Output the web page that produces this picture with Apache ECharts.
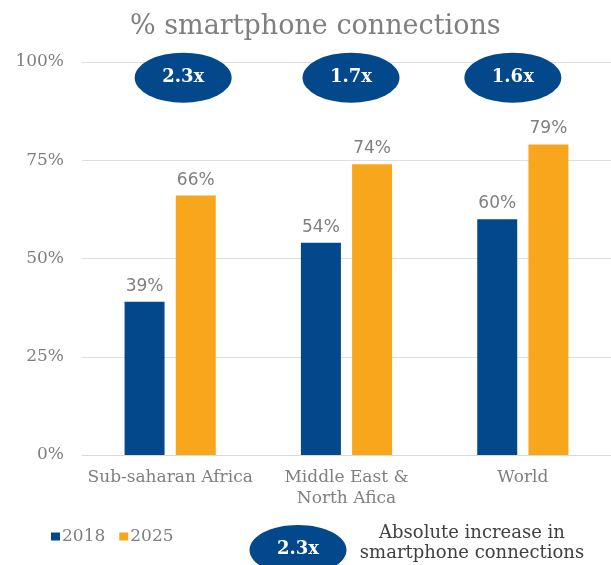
<!DOCTYPE html>
<html>
<head>
<meta charset="utf-8">
<style>
  html, body { margin: 0; padding: 0; background: #ffffff; }
  #chart { width: 611px; height: 565px; }
</style>
<script src="https://cdn.jsdelivr.net/npm/echarts@6/dist/echarts.min.js"></script>
</head>
<body>
<div id="chart"></div>
<script>
const categories = ['Sub-saharan Africa', 'Middle East &\nNorth Afica', 'World'];
const values2018 = [39, 54, 60];
const values2025 = [66, 74, 79];
const ratios = [2.3, 1.7, 1.6];
const ratioLevel = [96, 96, 96];
const yTicks = [0, 25, 50, 75, 100];
const legendRatio = 2.3;

const BLUE = '#02488a';
const ORANGE = '#f8a61c';
const GREY = '#7f7f7f';
const SERIF = '"DejaVu Serif", serif';
const SANS = '"DejaVu Sans", sans-serif';

const chart = echarts.init(document.getElementById('chart'), null, { renderer: 'canvas' });

const ellipseOffsets = [[13, 0], [4.5, 0], [-10, 0]];

chart.setOption({
  animation: false,
  backgroundColor: '#ffffff',
  title: {
    text: '% smartphone connections',
    left: 125,
    top: 8,
    textStyle: { fontFamily: SERIF, fontSize: 27, fontWeight: 'normal', color: GREY }
  },
  legend: {
    left: 46,
    top: 523,
    itemWidth: 9,
    itemHeight: 8,
    itemGap: 14,
    icon: 'rect',
    data: ['2018', '2025'],
    textStyle: { fontFamily: SERIF, fontSize: 17, color: GREY, padding: [0, 0, 0, -3] }
  },
  grid: { left: 82, right: 0, top: 62, bottom: 110, containLabel: false },
  xAxis: {
    type: 'category',
    data: categories,
    axisTick: { show: false },
    axisLine: { lineStyle: { color: '#d9d9d9', width: 1 } },
    axisLabel: {
      fontFamily: SERIF, fontSize: 17, color: GREY, margin: 12, lineHeight: 21, interval: 0
    }
  },
  yAxis: {
    type: 'value',
    min: yTicks[0],
    max: yTicks[yTicks.length - 1],
    interval: yTicks[1] - yTicks[0],
    axisLine: { show: false },
    axisTick: { show: false },
    splitLine: { lineStyle: { color: '#dedede', width: 1 } },
    axisLabel: {
      formatter: '{value}%',
      fontFamily: SERIF, fontSize: 17, color: GREY, margin: 18
    }
  },
  series: [
    {
      name: '2018',
      type: 'bar',
      data: values2018,
      barWidth: 40,
      barGap: '28%',
      itemStyle: { color: BLUE },
      label: {
        show: true, position: 'top', distance: 7,
        formatter: '{c}%', fontFamily: SANS, fontSize: 17, color: GREY
      }
    },
    {
      name: '2025',
      type: 'bar',
      data: values2025,
      barWidth: 40,
      barGap: '28%',
      itemStyle: { color: ORANGE },
      label: {
        show: true, position: 'top', distance: 7,
        formatter: '{c}%', fontFamily: SANS, fontSize: 17, color: GREY
      }
    },
    {
      name: 'ratio',
      type: 'scatter',
      symbol: 'circle',
      symbolSize: [97, 50],
      silent: true,
      z: 5,
      data: ratioLevel.map((v, i) => ({
        value: [i, v],
        ratio: ratios[i],
        symbolOffset: ellipseOffsets[i]
      })),
      itemStyle: { color: BLUE, opacity: 1 },
      label: {
        show: true,
        position: 'inside',
        formatter: p => p.data.ratio.toFixed(1) + 'x',
        fontFamily: SERIF, fontSize: 18, fontWeight: 'bold', color: '#ffffff'
      }
    }
  ],
  graphic: [
    {
      type: 'ellipse',
      shape: { cx: 298, cy: 550, rx: 48.5, ry: 25 },
      style: { fill: BLUE },
      z: 10
    },
    {
      type: 'text',
      x: 298, y: 549,
      style: {
        text: legendRatio.toFixed(1) + 'x',
        fill: '#ffffff',
        font: 'bold 18px "DejaVu Serif", serif',
        align: 'center', verticalAlign: 'middle'
      },
      z: 11
    },
    {
      type: 'text',
      x: 472, y: 543,
      style: {
        text: 'Absolute increase in\nsmartphone connections',
        fill: '#404040',
        font: '18px "DejaVu Serif", serif',
        lineHeight: 20,
        align: 'center', verticalAlign: 'middle'
      },
      z: 11
    }
  ]
});
</script>
</body>
</html>
